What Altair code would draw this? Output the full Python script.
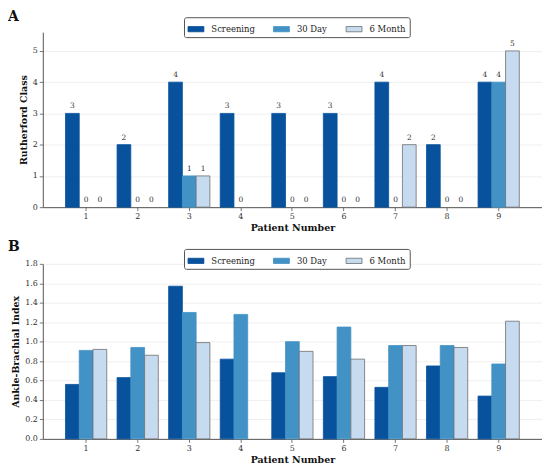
import altair as alt
import pandas as pd

patients = [1, 2, 3, 4, 5, 6, 7, 8, 9]
visits = ["Screening", "30 Day", "6 Month"]

rc_screening = [3, 2, 4, 3, 3, 3, 4, 2, 4]
rc_30day = [0, 0, 1, 0, 0, 0, 0, 0, 4]
rc_6month = [0, 0, 1, None, 0, 0, 2, 0, 5]

abi_screening = [0.56, 0.63, 1.57, 0.82, 0.68, 0.64, 0.53, 0.75, 0.44]
abi_30day = [0.91, 0.94, 1.30, 1.28, 1.00, 1.15, 0.96, 0.96, 0.77]
abi_6month = [0.92, 0.86, 0.99, None, 0.90, 0.82, 0.96, 0.94, 1.21]

fills = ["#08519c", "#4292c6", "#c6dbef"]
strokes = ["#08519c", "#4292c6", "#6e6e6e"]

SERIF = "DejaVu Serif"


def long_table(series):
    rows = []
    for visit, vals in zip(visits, series):
        for p, v in zip(patients, vals):
            if v is not None:
                rows.append({"Patient": p, "Visit": visit, "Value": v})
    return pd.DataFrame(rows)


rc_df = long_table([rc_screening, rc_30day, rc_6month])
abi_df = long_table([abi_screening, abi_30day, abi_6month])

legend = alt.Legend(
    title=None,
    orient="none",
    legendX=142,
    legendY=-15,
    direction="horizontal",
    symbolType="M-1,-0.33L1,-0.33L1,0.33L-1,0.33Z",
    symbolSize=256,
    symbolStrokeWidth=0.8,
    labelFont=SERIF,
    labelFontSize=8.5,
    labelColor="#222",
    strokeColor="#555",
    fillColor="white",
    padding=3.5,
    cornerRadius=2,
    columnPadding=16,
    labelOffset=7,
)


def panel(df, letter, ytitle, ydomain, yvalues, yformat, labels, title_offset):
    base = alt.Chart(df).encode(
        x=alt.X(
            "Patient:O",
            scale=alt.Scale(paddingInner=0.2, paddingOuter=0.44),
            axis=alt.Axis(title="Patient Number", labelAngle=0, grid=False,
                          tickSize=3.5, labelPadding=2, titlePadding=2),
        ),
        xOffset=alt.XOffset("Visit:N", sort=visits,
                            scale=alt.Scale(domain=visits, paddingInner=0, paddingOuter=0)),
        y=alt.Y(
            "Value:Q",
            scale=alt.Scale(domain=ydomain, nice=False, zero=True),
            axis=alt.Axis(title=ytitle, values=yvalues, format=yformat, grid=True,
                          tickSize=3.5, labelPadding=2, titlePadding=4),
        ),
    )
    bars = base.mark_bar(strokeWidth=0.8).encode(
        fill=alt.Fill("Visit:N", sort=visits,
                      scale=alt.Scale(domain=visits, range=fills), legend=legend),
        stroke=alt.Stroke("Visit:N", sort=visits,
                          scale=alt.Scale(domain=visits, range=strokes), legend=legend),
    ).transform_filter(alt.datum.Value > 0)
    layers = [bars]
    if labels:
        text = base.mark_text(baseline="bottom", dy=-3, font=SERIF, fontSize=7.5,
                              color="#333").encode(text=alt.Text("Value:Q", format="d"))
        layers.append(text)
    return alt.layer(*layers).properties(
        width=502,
        height=176,
        title=alt.TitleParams(letter, anchor="start", frame="group", font=SERIF,
                              fontSize=14, fontWeight="bold", color="#111",
                              dx=-35, offset=title_offset),
    )


chart_a = panel(rc_df, "A", "Rutherford Class", [0, 5.6], [0, 1, 2, 3, 4, 5], "d", True, -7)
chart_b = panel(abi_df, "B", "Ankle-Brachial Index", [0, 1.8],
                [0.0, 0.2, 0.4, 0.6, 0.8, 1.0, 1.2, 1.4, 1.6, 1.8], ".1f", False, -6)

chart = (
    alt.vconcat(chart_a, chart_b, spacing=8)
    .resolve_legend(fill="independent", stroke="independent")
    .resolve_scale(fill="independent", stroke="independent")
    .properties(padding={"left": 0, "top": 0, "right": 0, "bottom": 0})
    .configure(font=SERIF)
    .configure_view(stroke=None)
    .configure_legend(labelFont=SERIF, labelFontSize=8.5)
    .configure_axis(
        domainColor="#555",
        domainWidth=1,
        tickColor="#555",
        tickWidth=0.8,
        labelFont=SERIF,
        labelFontSize=8,
        labelColor="#333",
        titleFont=SERIF,
        titleFontSize=9.5,
        titleFontWeight="bold",
        titleColor="#111",
        gridColor="#ebebeb",
        gridWidth=0.8,
    )
)

chart.save("out.html", embed_options={"renderer": "svg", "actions": False})
